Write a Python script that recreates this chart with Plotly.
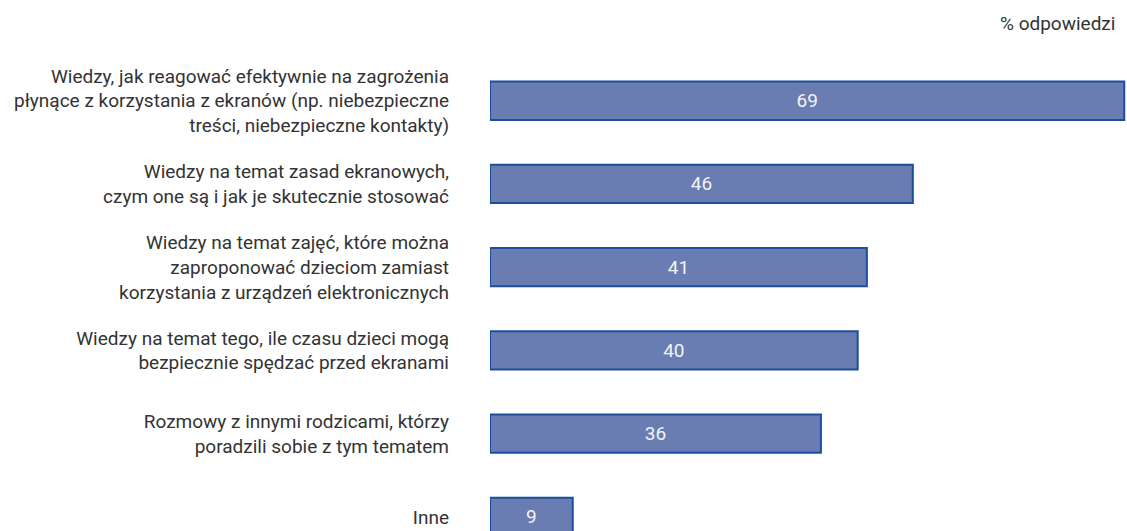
import plotly.graph_objects as go

categories = [
    "Wiedzy, jak reagować efektywnie na zagrożenia<br>płynące z korzystania z ekranów (np. niebezpieczne<br>treści, niebezpieczne kontakty)",
    "Wiedzy na temat zasad ekranowych,<br>czym one są i jak je skutecznie stosować",
    "Wiedzy na temat zajęć, które można<br>zaproponować dzieciom zamiast<br>korzystania z urządzeń elektronicznych",
    "Wiedzy na temat tego, ile czasu dzieci mogą<br>bezpiecznie spędzać przed ekranami",
    "Rozmowy z innymi rodzicami, którzy<br>poradzili sobie z tym tematem",
    "Inne",
]
values = [69, 46, 41, 40, 36, 9]
unit_label = "% odpowiedzi"

fig = go.Figure(go.Bar(
    x=values,
    y=categories,
    orientation="h",
    marker=dict(color="#6a7db3", line=dict(color="#1b4f9b", width=2)),
    text=[str(v) for v in values],
    textposition="inside",
    insidetextanchor="middle",
    textfont=dict(color="#f4f4f4", size=19, family="Roboto"),
    width=0.46,
    hoverinfo="skip",
))

fig.update_layout(
    width=1127, height=531,
    margin=dict(l=490, r=0, t=40, b=0),
    paper_bgcolor="white", plot_bgcolor="white",
    font=dict(family="Roboto", color="#333333", size=19),
    showlegend=False,
    uniformtext=dict(minsize=19, mode="show"),
    xaxis=dict(range=[0, 69.3], visible=False),
    yaxis=dict(
        categoryorder="array", categoryarray=categories,
        range=[5.17, -0.73],
        showgrid=False, zeroline=False, showline=False,
        ticks="", ticklabelstandoff=40,
        tickfont=dict(size=19, color="#333333", family="Roboto"),
    ),
    annotations=[dict(
        text=unit_label, xref="paper", yref="paper",
        x=1, y=1, xanchor="right", yanchor="bottom",
        xshift=-10, yshift=3,
        showarrow=False, font=dict(size=19, color="#333333", family="Roboto"),
    )],
)

fig.write_html("out.html")
